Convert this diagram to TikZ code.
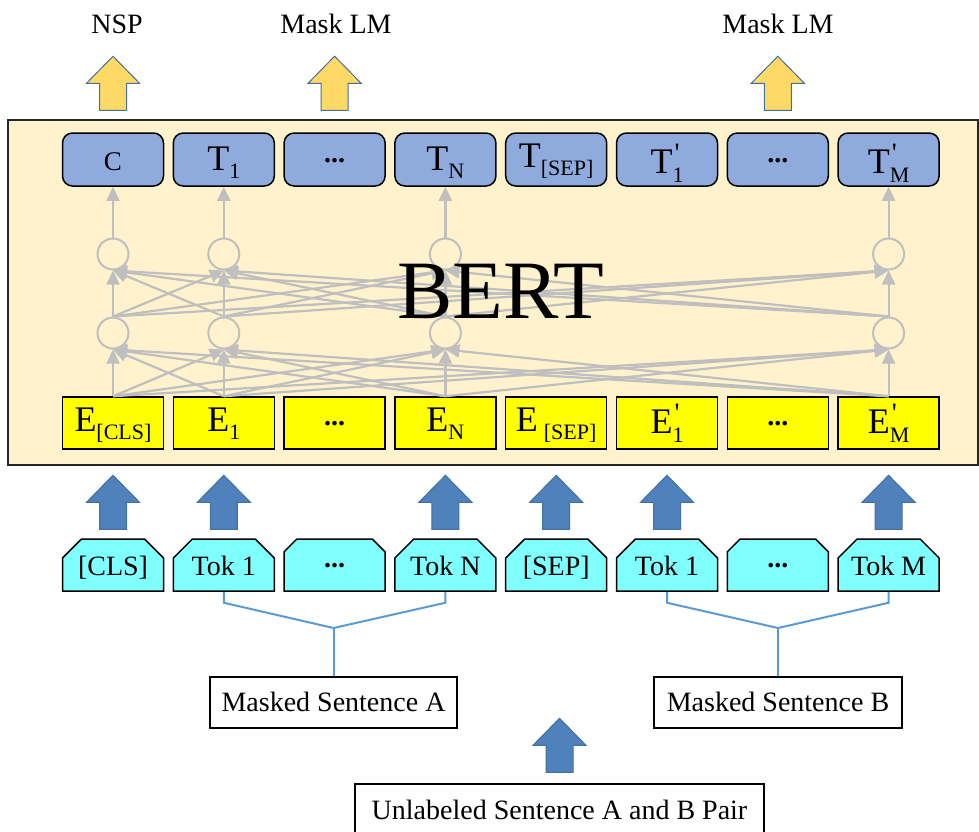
\documentclass[tikz,border=0pt]{standalone}
\usepackage{fontspec}
\setmainfont{Liberation Serif}
\usetikzlibrary{arrows.meta,shapes.misc}

\definecolor{bertbg}{HTML}{FFF2CC}
\definecolor{tblue}{HTML}{8FAADC}
\definecolor{eyellow}{HTML}{FFFF00}
\definecolor{tokcyan}{HTML}{80FFFF}
\definecolor{lgray}{HTML}{BFBFBF}
\definecolor{connblue}{HTML}{5B9BD5}
\definecolor{arrblue}{HTML}{4F81BD}
\definecolor{arredge}{HTML}{41719C}
\definecolor{arryellow}{HTML}{FFD966}

\newcommand\fs[1]{\fontsize{#1}{#1}\selectfont}
% symbol with a lowered subscript
\newcommand\sbs[2]{#1\raisebox{-8pt}{\fs{22}#2}}
% symbol with a prime stacked over a lowered subscript
\newcommand\psb[2]{#1\rlap{\hspace{2pt}\raisebox{11pt}{\fs{28}\textquotesingle}}\raisebox{-9pt}{\fs{22}#2}}
\newcommand\dts{\textbf{...}}

\begin{document}
\begin{tikzpicture}[x=1pt,y=-1pt,font=\fs{28},
  tbox/.style={draw=black,line width=1.5pt,fill=tblue,rounded corners=10pt,
    minimum width=101pt,minimum height=53pt,inner sep=0pt,
    text height=21pt,text depth=0pt,font=\fs{36}},
  ebox/.style={draw=black,line width=1.5pt,fill=eyellow,
    minimum width=101pt,minimum height=52pt,inner sep=0pt,
    text height=16pt,text depth=0pt,font=\fs{36}},
  tokbox/.style={chamfered rectangle,chamfered rectangle corners={north west,north east},
    chamfered rectangle xsep=9pt,chamfered rectangle ysep=10pt,
    draw=black,line width=1.5pt,fill=tokcyan,
    minimum width=101pt,minimum height=52pt,inner sep=0pt,
    text height=20pt,text depth=0pt,font=\fs{28}},
  dotsnode/.style={text height=5.6pt,text depth=0pt,font=\fs{28}\bfseries},
  sbox/.style={draw=black,line width=1.5pt,fill=white,
    minimum height=51pt,inner sep=0pt,text height=18pt,text depth=0pt},
  neuron/.style={circle,draw=lgray,line width=2pt,minimum size=31pt,inner sep=0pt},
  grayarr/.style={draw=lgray,line width=2.2pt,-{Triangle[length=14pt,width=13pt]}},
  conn/.style={draw=connblue,line width=2pt},
  bluearr/.style={fill=arrblue,draw=arredge,line width=1pt},
  yelarr/.style={fill=arryellow,draw=arredge,line width=1pt},
  uparr/.pic={\path[pic actions] (0,0) -- (26.5,27) -- (13.5,27) -- (13.5,54)
    -- (-13.5,54) -- (-13.5,27) -- (-26.5,27) -- cycle;}
]
\useasboundingbox (0,0) rectangle (979,831);
\clip (0,0) rectangle (979,831);

% encoder frame
\node[draw=black!85,line width=2pt,fill=bertbg,minimum width=970pt,minimum height=345pt,inner sep=0pt]
  (bert) at (493,292.5) {};

% output row
\node[tbox,font=\fs{27}] (t0) at (113,159.5) {C};
\node[tbox] (t1) at (223.8,159.5) {\sbs{T}{1}};
\node[tbox,dotsnode] (t2) at (334.6,159.5) {\dts};
\node[tbox] (t3) at (445.4,159.5) {\sbs{T}{N}};
\node[tbox] (t4) at (556.2,159.5) {\raisebox{3pt}{\sbs{T}{[SEP]}}};
\node[tbox] (t5) at (667,159.5) {\raisebox{-3pt}{\psb{T}{1}}};
\node[tbox,dotsnode] (t6) at (777.8,159.5) {\dts};
\node[tbox] (t7) at (888.6,159.5) {\raisebox{-3pt}{\psb{T}{M}}};

% embedding row
\node[ebox] (e0) at (113,423) {\sbs{E}{[CLS]}};
\node[ebox] (e1) at (223.8,423) {\sbs{E}{1}};
\node[ebox,dotsnode] (e2) at (334.6,423) {\dts};
\node[ebox] (e3) at (445.4,423) {\sbs{E}{N}};
\node[ebox] (e4) at (556.2,423) {E\hspace{6pt}\sbs{}{[SEP]}};
\node[ebox] (e5) at (667,423) {\raisebox{-2pt}{\psb{E}{1}}};
\node[ebox,dotsnode] (e6) at (777.8,423) {\dts};
\node[ebox] (e7) at (888.6,423) {\raisebox{-2pt}{\psb{E}{M}}};

% hidden units
\foreach \i/\x in {0/113,1/223.8,3/445.4,7/888.6}{
  \node[neuron] (l\i) at (\x,333) {};
  \node[neuron] (u\i) at (\x,254) {};
}
\foreach \a in {0,1,3,7}{
  \foreach \b in {0,1,3,7}{
    \draw[grayarr] (e\a.north) -- (l\b.south);
    \draw[grayarr] (l\a.north) -- (u\b.south);
  }
  \draw[grayarr] (u\a.north) -- (t\a.south);
}

\node[anchor=base,font=\fs{83}] (bertlabel) at (501,318) {BERT};

% token row
\node[tokbox] (k0) at (113,565) {[CLS]};
\node[tokbox] (k1) at (223.8,565) {Tok 1};
\node[tokbox,dotsnode] (k2) at (334.6,565) {\dts};
\node[tokbox] (k3) at (445.4,565) {Tok N};
\node[tokbox] (k4) at (556.2,565) {[SEP]};
\node[tokbox] (k5) at (667,565) {Tok 1};
\node[tokbox,dotsnode] (k6) at (777.8,565) {\dts};
\node[tokbox] (k7) at (888.6,565) {Tok M};

% inputs to embeddings
\foreach \i in {0,1,3,4,5,7}{
  \pic[bluearr] at ([yshift=63pt]k\i.north) {uparr};
}

% task heads
\node[anchor=base] (nsp) at (117,33) {NSP};
\node[anchor=base] (mlm1) at (336,33) {Mask LM};
\node[anchor=base] (mlm2) at (778,33) {Mask LM};
\foreach \i in {0,2,6}{
  \pic[yelarr] at ([yshift=76pt]t\i.north) {uparr};
}

% sentences
\node[sbox,minimum width=247pt] (msa) at (333.5,702.5) {Masked Sentence A};
\node[sbox,minimum width=248pt] (msb) at (778,702.5) {Masked Sentence B};
\node[sbox,minimum width=409pt,minimum height=70pt,text height=10pt,text depth=10pt]
  (pair) at (559.5,819) {Unlabeled Sentence A and B Pair};
\pic[bluearr] at ([yshift=65pt]pair.north) {uparr};

\coordinate (ja) at (333.5,628);
\coordinate (jb) at (778,628);
\draw[conn] (k1.south) -- ++(0,11) -- (ja);
\draw[conn] (k3.south) -- ++(0,11) -- (ja);
\draw[conn] (ja) -- (msa.north);
\draw[conn] (k5.south) -- ++(0,11) -- (jb);
\draw[conn] (k7.south) -- ++(0,11) -- (jb);
\draw[conn] (jb) -- (msb.north);
\end{tikzpicture}
\end{document}
